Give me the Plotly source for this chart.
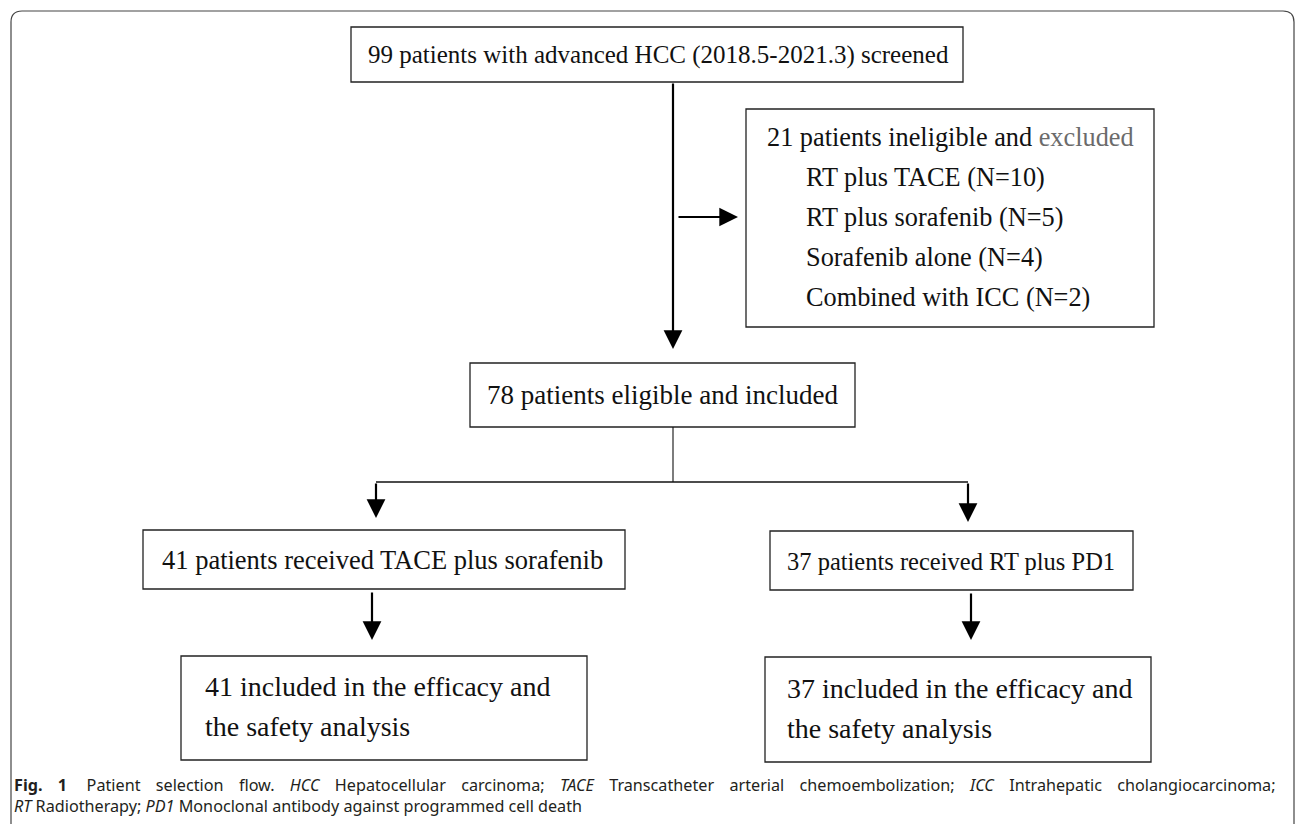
import plotly.graph_objects as go

# ---------------- data ----------------
screened_n = 99
screen_period = "2018.5-2021.3"
excluded_n = 21
exclusion_reasons = ["RT plus TACE", "RT plus sorafenib", "Sorafenib alone", "Combined with ICC"]
exclusion_counts = [10, 5, 4, 2]
included_n = 78
arm_names = ["TACE plus sorafenib", "RT plus PD1"]
arm_counts = [41, 37]
analysis_counts = [41, 37]
caption_abbrev = [("HCC", "Hepatocellular carcinoma"),
                  ("TACE", "Transcatheter arterial chemoembolization"),
                  ("ICC", "Intrahepatic cholangiocarcinoma"),
                  ("RT", "Radiotherapy"),
                  ("PD1", "Monoclonal antibody against programmed cell death")]

# ---------------- layout geometry ----------------
W, H = 1295, 824
SERIF = "Liberation Serif, Times New Roman, Times, serif"
SANS = "Noto Sans, sans-serif"

fig = go.Figure()
shapes = []
annotations = []


def rect(x0, y0, x1, y1):
    shapes.append(dict(type="rect", xref="x", yref="y", x0=x0, y0=y0, x1=x1, y1=y1,
                       line=dict(color="#222222", width=1.3), fillcolor="rgba(0,0,0,0)"))


def line(x0, y0, x1, y1, w=1.3):
    shapes.append(dict(type="line", xref="x", yref="y", x0=x0, y0=y0, x1=x1, y1=y1,
                       line=dict(color="#111111", width=w)))


def arrow(x0, y0, x1, y1):
    annotations.append(dict(x=x1, y=y1, ax=x0, ay=y0, xref="x", yref="y", axref="x", ayref="y",
                            text="", showarrow=True, arrowhead=2, arrowsize=1.7, arrowwidth=2.2,
                            arrowcolor="#000000", standoff=0, startstandoff=0))


def text(x, y, s, size, anchor="left", color="#111111", family=SERIF):
    annotations.append(dict(x=x, y=y, xref="x", yref="y", text=s, showarrow=False,
                            xanchor=anchor, yanchor="middle", align="left",
                            font=dict(family=family, size=size, color=color)))


# outer rounded frame
shapes.append(dict(type="path", xref="x", yref="y",
                   path="M 11,830 L 11,22 Q 11,11 22,11 L 1283,11 Q 1294,11 1294,22 L 1294,830",
                   line=dict(color="#444444", width=1.2)))

# top box
rect(351, 27, 963, 82)
text(658, 55, f"{screened_n} patients with advanced HCC ({screen_period}) screened", 25, anchor="center")

# main vertical arrow
arrow(673, 82, 673, 349)
# side arrow to exclusions
arrow(677, 217, 738, 217)

# exclusion box
rect(746, 109, 1154, 327)
FSX = 26.3
annotations.append(dict(x=765, y=137, xref="x", yref="y", showarrow=False, xanchor="left", yanchor="middle",
                        text=f"{excluded_n} patients ineligible and <span style='color:#6b6b6b'>excluded</span>",
                        font=dict(family=SERIF, size=FSX, color="#111111")))
ex_y = [177, 217, 257, 297]
for yy, r, c in zip(ex_y, exclusion_reasons, exclusion_counts):
    text(804, yy, f"{r} (N={c})", FSX)

# eligible box
rect(470, 363, 855, 427)
text(662, 395, f"{included_n} patients eligible and included", 27, anchor="center")

# branch
line(673, 427, 673, 482, w=1.1)
line(376, 482, 968, 482, w=1.6)
arrow(376, 482, 376, 518)
arrow(968, 482, 968, 522)

# arm boxes
rect(143, 530, 625, 589)
text(160, 560, f"{arm_counts[0]} patients received {arm_names[0]}", 26.5)
rect(770, 531, 1133, 590)
text(951, 561, f"{arm_counts[1]} patients received {arm_names[1]}", 24.5, anchor="center")

# arrows to analysis boxes
arrow(372, 591, 372, 640)
arrow(971, 592, 971, 640)

# analysis boxes
FSB = 28
rect(181, 656, 587, 760)
text(203, 686, f"{analysis_counts[0]} included in the efficacy and", FSB)
text(203, 726, "the safety analysis", FSB)
rect(765, 657, 1151, 762)
text(785, 688, f"{analysis_counts[1]} included in the efficacy and", FSB)
text(785, 728, "the safety analysis", FSB)

# caption (first line justified to the full width)
GAP = " &nbsp;&nbsp;&#8201;"
parts = [f"<i>{a}</i>{GAP}{b.replace(' ', GAP)}" for a, b in caption_abbrev]
cap1 = ("<b>Fig." + GAP + "1</b>" + GAP + "&nbsp;" + "Patient selection flow.".replace(" ", GAP)
        + GAP + (";" + GAP).join(parts[:3]) + ";")
parts2 = [f"<i>{a}</i> {b}" for a, b in caption_abbrev[3:]]
cap2 = "; ".join(parts2)
text(12, 785, cap1, 16.2, color="#231f20", family=SANS)
text(12, 806, cap2, 16.2, color="#231f20", family=SANS)

fig.update_layout(
    width=W, height=H,
    margin=dict(l=0, r=0, t=0, b=0),
    paper_bgcolor="white", plot_bgcolor="white",
    xaxis=dict(range=[0, W], visible=False, fixedrange=True),
    yaxis=dict(range=[H, 0], visible=False, fixedrange=True),
    shapes=shapes, annotations=annotations, showlegend=False,
)
fig.write_html("out.html", config={"displayModeBar": False},
               post_script="document.body.style.margin='0';document.body.style.overflow='hidden';")
